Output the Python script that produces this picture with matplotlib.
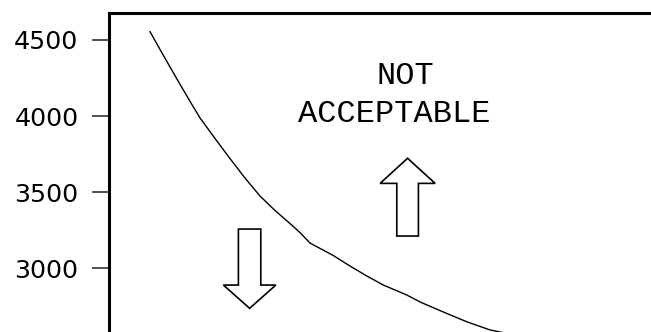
import matplotlib
matplotlib.use("Agg")
import matplotlib.pyplot as plt
from matplotlib.patches import FancyArrow

# Curve (x in arbitrary horizontal units, y values)
curve_x = [40.7, 50.7, 60.7, 70.7, 80.7, 90.7, 105.7, 120.7, 135.7, 150.7,
           165.7, 180.7, 190.7, 200.7, 224.0, 240.7, 257.4, 274.0, 297.4,
           310.7, 334.0, 357.4, 380.7, 395.7]
curve_y = [4555, 4438, 4323, 4209, 4097, 3988, 3853, 3721, 3593, 3475,
           3380, 3294, 3235, 3166, 3084, 3015, 2950, 2890, 2825,
           2779, 2713, 2649, 2595, 2575]
y_ticks = [3000, 3500, 4000, 4500]
y_tick_labels = ["3000", "3500", "4000", "4500"]
label_lines = ["NOT", "ACCEPTABLE"]

fig = plt.figure(figsize=(6.51, 3.32), dpi=100)
ax = fig.add_axes([109.3 / 651, 1 - 400 / 332, 591 / 651, (400 - 13.3) / 332])
ax.set_xlim(0, 591)
ax.set_ylim(2134.8, 4675.4)

ax.plot(curve_x, curve_y, color="black", linewidth=1.0)

# Arrows
up = FancyArrow(298.3, 3212, 0, 3723 - 3212, width=21.6, head_width=55,
                head_length=165, length_includes_head=True,
                facecolor="white", edgecolor="black", linewidth=1.2)
down = FancyArrow(140.3, 3258, 0, 2737 - 3258, width=22.4, head_width=52.4,
                  head_length=153, length_includes_head=True,
                  facecolor="white", edgecolor="black", linewidth=1.2)
ax.add_patch(up)
ax.add_patch(down)

ax.text(295.7, 4211, label_lines[0], family="Liberation Mono", fontsize=23,
        ha="center", va="baseline", color="black")
ax.text(284.7, 3961, label_lines[1], family="Liberation Mono", fontsize=23,
        ha="center", va="baseline", color="black")

ax.set_yticks(y_ticks)
ax.set_yticklabels(y_tick_labels, family="DejaVu Sans", fontsize=18.3)
ax.set_xticks([])
ax.tick_params(axis="y", length=12.2, width=1.1, pad=10, color="#222222")

for s in ["right", "bottom"]:
    ax.spines[s].set_visible(False)
for s in ["left", "top"]:
    ax.spines[s].set_linewidth(2.2)
    ax.spines[s].set_color("black")

fig.savefig("out.png", dpi=100)
